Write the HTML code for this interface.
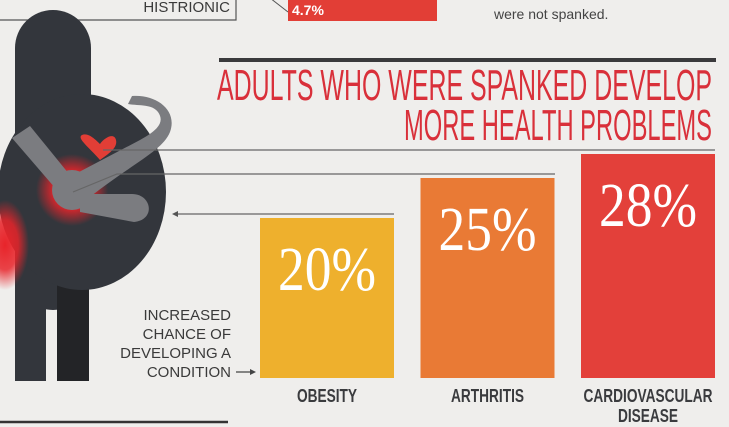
<!DOCTYPE html>
<html><head><meta charset="utf-8"><style>
html,body{margin:0;padding:0;background:#efeeec;}
svg{display:block;}
</style></head><body>
<svg width="729" height="427" viewBox="0 0 729 427" xmlns="http://www.w3.org/2000/svg">
  <defs>
    <radialGradient id="glow" cx="50%" cy="50%" r="50%">
      <stop offset="0%" stop-color="#e8242a"/><stop offset="55%" stop-color="#e8242a" stop-opacity="0.85"/><stop offset="100%" stop-color="#e8242a" stop-opacity="0"/>
    </radialGradient>
  </defs>
  <rect width="729" height="427" fill="#efeeec"/>

  <g>
    <polyline points="0,20 236,20 236,-2" fill="none" stroke="#555" stroke-width="1.2"/>
    <text x="230" y="12" text-anchor="end" font-family="Liberation Sans, sans-serif" font-size="15" fill="#3a3a3a">HISTRIONIC</text>
  </g>
  <line x1="270" y1="-2" x2="288" y2="12" stroke="#555" stroke-width="1"/>
  <g>
    <rect x="288" y="-2" width="149" height="23" fill="#e23e36"/>
    <text x="292" y="15" font-family="Liberation Sans, sans-serif" font-weight="bold" font-size="14" fill="#fff">4.7%</text>
  </g>
  <text x="494" y="19" font-family="Liberation Sans, sans-serif" font-size="14" fill="#444">were not spanked.</text>

  <rect x="219" y="58" width="497" height="4" fill="#3a3a3c"/>
  <text x="217" y="100" textLength="495" lengthAdjust="spacingAndGlyphs" font-family="Liberation Sans Narrow, Liberation Sans, sans-serif" font-size="44" fill="#d9303a">ADULTS WHO WERE SPANKED DEVELOP</text>
  <text x="404" y="140" textLength="308" lengthAdjust="spacingAndGlyphs" font-family="Liberation Sans Narrow, Liberation Sans, sans-serif" font-size="44" fill="#d9303a">MORE HEALTH PROBLEMS</text>

  <g>
    <rect x="15" y="10" width="76" height="300" rx="38" fill="#33363c"/>
    <rect x="15" y="200" width="31" height="181" fill="#33363c"/>
    <rect x="57" y="280" width="32" height="101" fill="#232427"/>
    <ellipse cx="82" cy="192" rx="84" ry="98" fill="#33363c"/>
    <ellipse cx="5" cy="245" rx="24" ry="45" fill="url(#glow)"/>
    <circle cx="72" cy="190" r="36" fill="url(#glow)"/>
    <path d="M12,138 L30,126 L78,185 L62,196 Z" fill="#7b7c80"/>
    <path d="M60,182 L140,140 C158,130 165,122 158,112 C152,104 140,106 128,104 L132,96 C156,94 178,110 170,132 C162,152 130,164 80,205 Z" fill="#7b7c80"/>
    <circle cx="72" cy="190" r="20" fill="#7b7c80"/>
    <path d="M80,194 L132,194 C152,194 156,220 134,222 L80,212 Z" fill="#7b7c80"/>
    <path d="M100,160 C90,148 76,138 82,135 C88,132 96,140 100,144 C104,138 114,132 116,140 C118,148 108,154 100,160 Z" fill="#e23e36"/>
  </g>

  <g stroke="#666" stroke-width="1.2" fill="none">
    <polyline points="103,150 715,150"/>
    <polyline points="73,192 117,174 555,174"/>
    <polyline points="174,214 394,214"/>
  </g>
  <polygon points="172,214 178,211 178,217" fill="#555"/>

  <g font-family="Liberation Sans, sans-serif" font-size="15" fill="#3a3a3a" text-anchor="end">
    <text x="231" y="320">INCREASED</text>
    <text x="231" y="339">CHANCE OF</text>
    <text x="231" y="358">DEVELOPING A</text>
    <text x="231" y="377">CONDITION</text>
  </g>
  <line x1="236" y1="372" x2="254" y2="372" stroke="#444" stroke-width="1.2"/>
  <polygon points="256,372 250,369 250,375" fill="#444"/>

  <line x1="0" y1="422" x2="228" y2="422" stroke="#333" stroke-width="2.5"/>

  <g id="bars"></g>
</svg>
<script>
const categories = ["OBESITY", "ARTHRITIS", "CARDIOVASCULAR|DISEASE"];
const values = [20, 25, 28];
const valueLabels = ["20%", "25%", "28%"];
const colors = ["#eeb02d", "#e97a35", "#e3403a"];

const baseY = 378, pxPerUnit = 8;
const yScale = v => baseY - v * pxPerUnit;
const xScale = i => 260 + i * 160.5;
const barW = 134;
const NS = "http://www.w3.org/2000/svg";
const g = document.getElementById("bars");
values.forEach((v, i) => {
  const x = xScale(i), y = yScale(v);
  const r = document.createElementNS(NS, "rect");
  r.setAttribute("x", x); r.setAttribute("y", y);
  r.setAttribute("width", barW); r.setAttribute("height", baseY - y);
  r.setAttribute("fill", colors[i]);
  
  
  g.appendChild(r);
  const t = document.createElementNS(NS, "text");
  t.setAttribute("x", x + barW / 2); t.setAttribute("y", y + 72);
  t.setAttribute("text-anchor", "middle");
  t.setAttribute("font-family", "Liberation Serif, serif");
  t.setAttribute("font-size", "62");
  t.setAttribute("fill", "#ffffff");
  t.setAttribute("textLength", "98");
  t.setAttribute("lengthAdjust", "spacingAndGlyphs");
  t.textContent = valueLabels[i];
  
  
  g.appendChild(t);
  categories[i].split("|").forEach((line, j) => {
    const c = document.createElementNS(NS, "text");
    c.setAttribute("x", x + barW / 2); c.setAttribute("y", 402 + j * 20);
    c.setAttribute("text-anchor", "middle");
    c.setAttribute("font-family", "Liberation Sans Narrow, Liberation Sans, sans-serif");
    c.setAttribute("font-weight", "bold");
    c.setAttribute("font-size", "18");
    c.setAttribute("fill", "#3a3b3e");
    c.textContent = line;
    
    
    g.appendChild(c);
    const w = c.getComputedTextLength();
    c.setAttribute("textLength", (w * 0.76).toFixed(1));
    c.setAttribute("lengthAdjust", "spacingAndGlyphs");
  });
});
</script>
</body></html>
